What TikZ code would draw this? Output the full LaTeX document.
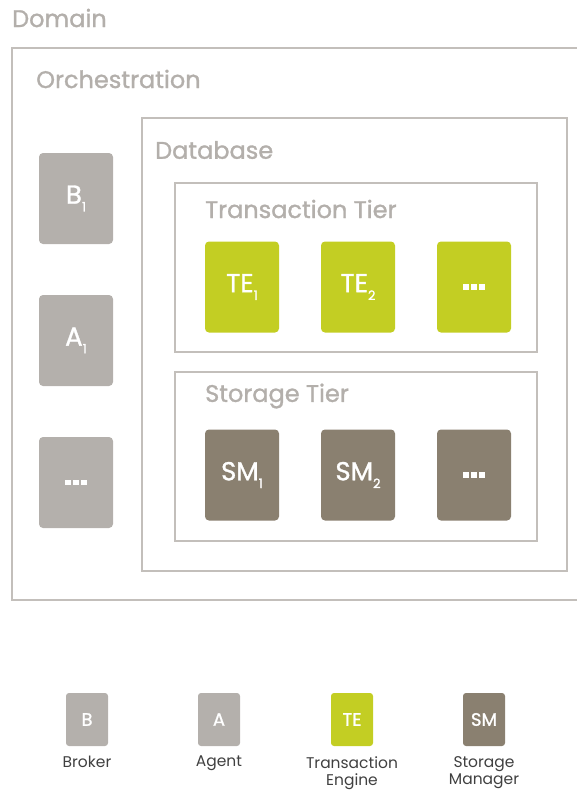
\documentclass[tikz,border=0pt]{standalone}
\usepackage{fontspec}
\setmainfont{Poppins}
\newfontfamily\medfont{Poppins}[FakeBold=1.2]
\definecolor{frame}{HTML}{C3BFBB}
\definecolor{lbl}{HTML}{B3AFAB}
\definecolor{lgray}{HTML}{B4B0AC}
\definecolor{lime}{HTML}{C3CE23}
\definecolor{taupe}{HTML}{8A8070}
\newcommand{\sbs}[1]{\raisebox{-0.3em}{\fontsize{13}{13}\selectfont #1}}
\newcommand{\threedots}{\rule{5.5pt}{5.5pt}\hspace{2.5pt}\rule{5.5pt}{5.5pt}\hspace{2.5pt}\rule{5.5pt}{5.5pt}}
\tikzset{
  frm/.style={draw=frame, line width=2pt},
  title/.style={anchor=west, text=lbl, inner sep=0pt, font=\medfont\fontsize{24}{24}\selectfont},
  comp/.style={rounded corners=4pt, minimum width=74pt, minimum height=91pt, inner sep=0pt, text=white, font=\medfont\fontsize{26}{26}\selectfont},
  bcomp/.style={comp, fill=lgray},
  tcomp/.style={comp, fill=lime},
  scomp/.style={comp, fill=taupe},
  leg/.style={rounded corners=3pt, minimum width=42pt, minimum height=53pt, inner sep=0pt, text=white, font=\medfont\fontsize{18}{18}\selectfont},
  legtxt/.style={anchor=north, align=center, inner sep=0pt, text=black!75, font=\fontsize{15.5}{17.5}\selectfont}
}
\begin{document}
\begin{tikzpicture}[x=1pt,y=-1pt]
\useasboundingbox (0,0) rectangle (577,790);
\clip (0,0) rectangle (577,790);
% frames
\draw[frm] (580,48) -- (12,48) -- (12,600) -- (580,600);
\draw[frm] (142,118) rectangle (567,571);
\draw[frm] (175,183) rectangle (537,352);
\draw[frm] (175,372) rectangle (537,541);
% titles
\node[title] (tdom) at (12,18) {Domain};
\node[title] (torch) at (36,79) {Orchestration};
\node[title] (tdb) at (155,150) {Database};
\node[title] (ttt) at (205,209) {Transaction Tier};
\node[title] (tst) at (205,396) {Storage Tier};
% orchestration components
\node[bcomp] (b1) at (76,198.5) {B\sbs{1}};
\node[bcomp] (a1) at (76,340.5) {A\sbs{1}};
\node[bcomp] (bx) at (76,482.5) {\threedots};
% transaction engines
\node[tcomp] (te1) at (242,287) {TE\sbs{1}};
\node[tcomp] (te2) at (358,287) {TE\sbs{2}};
\node[tcomp] (tex) at (474,287) {\threedots};
% storage managers
\node[scomp] (sm1) at (242,475) {SM\sbs{1}};
\node[scomp] (sm2) at (358,475) {SM\sbs{2}};
\node[scomp] (smx) at (474,475) {\threedots};
% legend
\node[leg, fill=lgray] (lb) at (87,719.5) {B};
\node[leg, fill=lgray] (la) at (219,719.5) {A};
\node[leg, fill=lime] (lt) at (352,719.5) {TE};
\node[leg, fill=taupe] (ls) at (484,719.5) {SM};
\node[legtxt] (lbt) at (87,756) {Broker};
\node[legtxt] (lat) at (219,756) {Agent};
\node[legtxt] (ltt) at (352,756) {Transaction\\Engine};
\node[legtxt] (lst) at (484,756) {Storage\\Manager};
\end{tikzpicture}
\end{document}
